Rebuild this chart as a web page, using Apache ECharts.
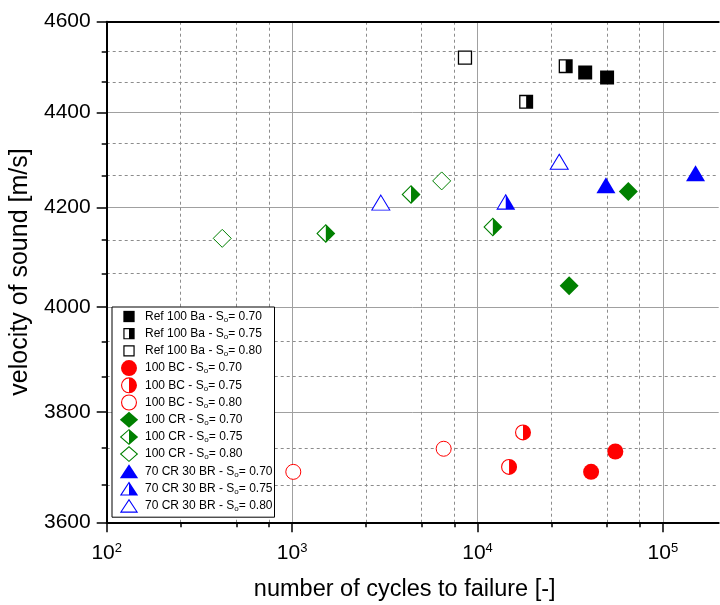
<!DOCTYPE html>
<html>
<head>
<meta charset="utf-8">
<script src="https://cdn.jsdelivr.net/npm/echarts@6/dist/echarts.min.js"></script>
<style>
  html, body { margin: 0; padding: 0; background: #fff; }
  #chart { width: 720px; height: 605px; }
</style>
</head>
<body>
<div id="chart"></div>
<script>
// Cycles to failure vs. velocity of sound, one array per mixture and So level: [cycles, m/s]
const refBa070 = [[38100, 4487], [50000, 4476]];
const refBa075 = [[29900, 4501], [18300, 4423]];
const refBa080 = [[8560, 4520]];
const bc070 = [[41000, 3690], [55400, 3727]];
const bc075 = [[17600, 3762], [14800, 3699]];
const bc080 = [[1015, 3690], [6570, 3732]];
const cr070 = [[31200, 4042], [65100, 4233]];
const cr075 = [[1520, 4147], [4380, 4227], [12100, 4160]];
const cr080 = [[420, 4137], [6410, 4255]];
const br070 = [[49300, 4246], [150000, 4271]];
const br075 = [[14200, 4212]];
const br080 = [[27600, 4295], [3010, 4210]];

const mixtures = ['Ref 100 Ba', '100 BC', '100 CR', '70 CR 30 BR'];
const soLevels = ['0.70', '0.75', '0.80'];

// axis ticks
const xMajorTicks = [100, 1000, 10000, 100000];
const xMinorTicks = [250, 500, 750, 2500, 5000, 7500, 25000, 50000, 75000];
const yMajorTicks = [3600, 3800, 4000, 4200, 4400, 4600];
const yMinorTicks = [3666.67, 3733.33, 3866.67, 3933.33, 4066.67, 4133.33, 4266.67, 4333.33, 4466.67, 4533.33];

const dataSets = [
  [refBa070, refBa075, refBa080],
  [bc070, bc075, bc080],
  [cr070, cr075, cr080],
  [br070, br075, br080]
];

const FONT = '"Liberation Sans", Arial, sans-serif';
const mixtureColors = ['#000000', '#ff0000', '#008000', '#0000ff'];

// marker shapes: filled / half-filled (outline ring + right half) / open
const markers = [
  { solid: 'rect', solidSize: 14,
    half: 'path://M0,0 L14,0 L14,14 L0,14 Z M1.3,1.3 L1.3,12.7 L7,12.7 L7,1.3 Z', halfSize: 14,
    back: 'rect', open: 'rect', openSize: 13, openBorder: 1.3 },
  { solid: 'circle', solidSize: 16,
    half: 'path://M8,0 A8,8 0 1 1 8,16 A8,8 0 1 1 8,0 Z M8,1.1 A6.9,6.9 0 0 0 8,14.9 Z', halfSize: 16,
    back: 'circle', open: 'circle', openSize: 15, openBorder: 1 },
  { solid: 'diamond', solidSize: 19,
    half: 'path://M9.5,0 L19,9.5 L9.5,19 L0,9.5 Z M9.5,1.56 L1.56,9.5 L9.5,17.44 Z', halfSize: 19,
    back: 'diamond', open: 'diamond', openSize: 18, openBorder: 1 },
  { solid: 'triangle', solidSize: [19, 16],
    half: 'path://M9.5,0 L19,16 L0,16 Z M9.5,2.15 L1.93,14.9 L9.5,14.9 Z', halfSize: [19, 16],
    back: 'triangle', open: 'triangle', openSize: [18, 15], openBorder: 1 }
];

// legend icons, each laid out in a 22 x 17 box
const FRAME = 'path://M0,0 M22,17 ';
const sqOuter = 'M5.35,2.85 L16.65,2.85 L16.65,14.15 L5.35,14.15 Z';
const ciOuter = 'M11,0.5 A8,8 0 1 1 11,16.5 A8,8 0 1 1 11,0.5 Z';
const diOuter = 'M11,0.5 L20.15,8.5 L11,16.5 L1.85,8.5 Z';
const trOuter = 'M11,1.5 L20.15,15.5 L1.85,15.5 Z';
const legendIcons = [
  [FRAME + sqOuter,
   FRAME + sqOuter + ' M6.55,4.05 L6.55,12.95 L11,12.95 L11,4.05 Z',
   FRAME + sqOuter + ' M6.55,4.05 L6.55,12.95 L15.45,12.95 L15.45,4.05 Z'],
  [FRAME + ciOuter,
   FRAME + ciOuter + ' M11,1.6 A6.9,6.9 0 0 0 11,15.4 Z',
   FRAME + ciOuter + ' M11,1.6 A6.9,6.9 0 1 0 11,15.4 A6.9,6.9 0 1 0 11,1.6 Z'],
  [FRAME + diOuter,
   FRAME + diOuter + ' M11,1.96 L3.52,8.5 L11,15.04 Z',
   FRAME + diOuter + ' M11,1.96 L3.52,8.5 L11,15.04 L18.48,8.5 Z'],
  [FRAME + trOuter,
   FRAME + trOuter + ' M11,3.5 L3.88,14.4 L11,14.4 Z',
   FRAME + trOuter + ' M11,3.5 L3.88,14.4 L18.12,14.4 Z']
];

const series = [];
const legendData = [];
mixtures.forEach(function (mix, m) {
  const c = mixtureColors[m];
  const mk = markers[m];
  soLevels.forEach(function (so, l) {
    const name = mix + ' - So= ' + so;
    const data = dataSets[m][l];
    if (l === 0) {
      series.push({ type: 'scatter', name: name, data: data, symbol: mk.solid,
        symbolSize: mk.solidSize, itemStyle: { color: c, opacity: 1 } });
    } else if (l === 1) {
      // white underlay so the open half hides the grid
      series.push({ type: 'scatter', name: name, data: data, symbol: mk.back,
        symbolSize: mk.halfSize, itemStyle: { color: '#ffffff', opacity: 1 }, silent: true });
      series.push({ type: 'scatter', name: name, data: data, symbol: mk.half,
        symbolSize: mk.halfSize, itemStyle: { color: c, opacity: 1 } });
    } else {
      series.push({ type: 'scatter', name: name, data: data, symbol: mk.open,
        symbolSize: mk.openSize,
        itemStyle: { color: '#ffffff', borderColor: c, borderWidth: mk.openBorder, opacity: 1 } });
    }
    legendData.push({ name: name, icon: legendIcons[m][l],
      itemStyle: { color: c, borderWidth: 0, opacity: 1 } });
  });
});

const X_MIN = 100, X_MAX = 200000, Y_MIN = 3600, Y_MAX = 4600;
const solidGrid = { show: true, lineStyle: { color: '#a0a0a0', width: 1, type: 'solid' } };
const dashedGrid = { show: true, lineStyle: { color: '#8c8c8c', width: 1, type: [3, 3] } };
const axisBlack = { show: true, lineStyle: { color: '#000', width: 2 } };

const chart = echarts.init(document.getElementById('chart'), null, { renderer: 'canvas' });
chart.setOption({
  animation: false,
  backgroundColor: '#fff',
  grid: { left: 106.7, top: 21.7, right: 1.3, bottom: 82.7, containLabel: false, outerBoundsMode: 'none' },
  xAxis: [
    {
      type: 'log', logBase: 10, min: X_MIN, max: X_MAX, position: 'bottom',
      name: 'number of cycles to failure [-]', nameLocation: 'middle', nameGap: 55,
      nameTextStyle: { fontFamily: FONT, fontSize: 23.5, color: '#000', padding: [0, 16, 0, 0] },
      axisLine: axisBlack,
      axisTick: { show: true, customValues: xMajorTicks, inside: false, length: 10,
        lineStyle: { color: '#000', width: 1.5 } },
      axisLabel: {
        customValues: xMajorTicks, margin: 20, color: '#000',
        formatter: function (v) { return '{b|10}{sup|' + Math.round(Math.log10(v)) + '}'; },
        rich: {
          b: { fontFamily: FONT, fontSize: 21, lineHeight: 21, color: '#000' },
          sup: { fontFamily: FONT, fontSize: 13, lineHeight: 9, verticalAlign: 'top', color: '#000' }
        }
      },
      splitLine: solidGrid
    },
    {
      type: 'log', logBase: 10, min: X_MIN, max: X_MAX, position: 'bottom',
      axisLine: { show: false },
      axisTick: { show: true, customValues: xMinorTicks, inside: false, length: 5,
        lineStyle: { color: '#000', width: 1.5 } },
      axisLabel: { show: false },
      splitLine: dashedGrid
    },
    {
      type: 'log', logBase: 10, min: X_MIN, max: X_MAX, position: 'top',
      axisLine: axisBlack, axisTick: { show: false }, axisLabel: { show: false },
      splitLine: { show: false }
    }
  ],
  yAxis: [
    {
      type: 'log', logBase: 10, min: Y_MIN, max: Y_MAX, position: 'left',
      name: 'velocity of sound [m/s]', nameLocation: 'middle', nameGap: 67,
      nameTextStyle: { fontFamily: FONT, fontSize: 25, color: '#000' },
      axisLine: axisBlack,
      axisTick: { show: true, customValues: yMajorTicks, inside: false, length: 10,
        lineStyle: { color: '#000', width: 1.5 } },
      axisLabel: { customValues: yMajorTicks, margin: 16, color: '#000',
        fontFamily: FONT, fontSize: 21,
        formatter: function (v) { return String(Math.round(v)); } },
      splitLine: solidGrid
    },
    {
      type: 'log', logBase: 10, min: Y_MIN, max: Y_MAX, position: 'left',
      axisLine: { show: false },
      axisTick: { show: true, customValues: yMinorTicks, inside: false, length: 5,
        lineStyle: { color: '#000', width: 1.5 } },
      axisLabel: { show: false },
      splitLine: dashedGrid
    }
  ],
  legend: {
    orient: 'vertical', left: 112, top: 307,
    padding: [1, 2, 3, 6],
    itemWidth: 22, itemHeight: 17, itemGap: 0.2,
    backgroundColor: '#fff', borderColor: '#000', borderWidth: 1, borderRadius: 0,
    selectedMode: false,
    textStyle: {
      fontFamily: FONT, fontSize: 12, color: '#000', lineHeight: 14,
      rich: { sub: { fontFamily: FONT, fontSize: 8, lineHeight: 10, verticalAlign: 'bottom', color: '#000' } }
    },
    formatter: function (n) { return n.replace(' - So=', ' - S{sub|o}='); },
    data: legendData
  },
  series: series
});
</script>
</body>
</html>
